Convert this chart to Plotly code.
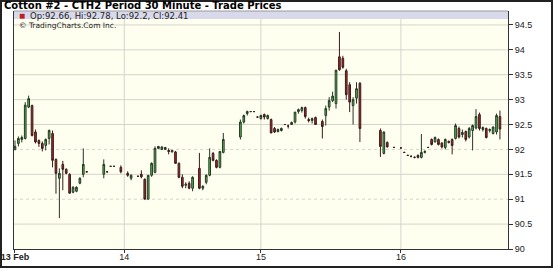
import plotly.graph_objects as go

# ---- data (bar slot index within sessions, OHLC) ----
bar_slot = [0,1,2,3,4,5,6,7,8,9,10,11,12,13,14,15,16,17,18,19,20,21,
            26,27,28,29,31,33,34,36,37,38,39,40,41,42,43,44,45,46,47,48,49,50,51,52,54,55,56,57,58,59,60,61,
            66,67,68,69,70,71,72,73,74,75,76,77,78,79,80,81,82,83,84,85,86,87,88,90,
            91,92,93,94,95,96,97,98,99,100,101,107,108,109,111,
            113,114,115,116,117,118,119,120,121,122,123,124,125,126,127,128,129,130,131,132,133,134,135,136,137,138,139,140,141,142]
open_ = [92.00,92.12,92.20,92.22,92.85,92.88,92.35,92.18,92.12,92.08,92.22,92.32,91.80,91.42,91.70,91.60,91.50,91.14,91.16,91.32,91.50,91.55,
         91.50,91.55,91.66,91.66,91.64,91.52,91.42,91.46,91.50,91.40,91.00,91.48,91.54,92.02,92.00,92.00,91.98,91.95,91.95,91.72,91.44,91.28,91.32,91.22,91.62,91.22,91.34,91.48,91.92,91.78,91.64,91.94,
         92.25,92.55,92.72,92.76,92.76,92.65,92.62,92.70,92.62,92.60,92.42,92.36,92.38,92.50,92.47,92.50,92.55,92.76,92.78,92.84,92.60,92.58,92.64,92.56,
         92.68,92.85,92.98,92.92,93.86,93.83,93.58,93.30,92.88,93.03,93.33,92.38,91.92,92.14,92.04,
         92.03,91.94,91.88,91.86,91.84,91.88,91.84,91.94,92.04,92.20,92.15,92.20,92.13,92.04,92.16,92.20,92.22,92.42,92.30,92.36,92.25,92.38,92.43,92.70,92.40,92.42,92.38,92.32,92.35,92.66]
high = [92.18,92.26,92.28,92.95,93.08,92.90,92.40,92.20,92.16,92.22,92.40,92.38,91.82,91.62,91.77,91.62,91.52,91.26,91.26,91.44,92.02,91.56,
        91.80,91.56,91.67,91.67,91.68,91.56,91.50,91.47,91.58,91.42,91.48,91.74,92.06,92.07,92.06,92.05,92.02,91.99,91.97,91.74,91.50,91.34,91.36,91.46,91.93,91.28,91.50,92.02,91.95,91.80,91.96,92.33,
        92.60,92.70,92.78,92.77,92.77,92.66,92.70,92.72,92.70,92.62,92.45,92.42,92.44,92.51,92.50,92.56,92.75,92.82,92.86,92.86,92.64,92.64,92.66,92.60,
        92.88,93.05,93.16,93.60,94.36,93.88,93.62,93.35,93.05,93.35,93.35,92.42,92.36,92.16,92.05,
        92.04,91.95,91.89,91.88,91.86,91.90,92.31,91.98,92.05,92.22,92.26,92.22,92.14,92.22,92.18,92.22,92.52,92.46,92.40,92.38,92.45,92.50,92.81,92.74,92.46,92.44,92.42,92.46,92.72,92.78]
low = [91.98,92.06,92.14,92.20,92.83,92.26,92.12,92.05,91.96,91.98,92.10,91.64,91.11,90.62,91.18,91.50,91.12,91.12,91.14,91.30,91.44,91.54,
       91.42,91.54,91.65,91.65,91.52,91.45,91.38,91.45,91.42,91.00,91.00,91.45,91.52,92.01,91.99,91.99,91.90,91.94,91.72,91.42,91.22,91.22,91.20,91.16,91.20,91.18,91.30,91.46,91.76,91.62,91.62,91.92,
       92.20,92.52,92.68,92.75,92.75,92.64,92.60,92.60,92.60,92.33,92.33,92.34,92.36,92.49,92.42,92.50,92.52,92.72,92.74,92.62,92.54,92.52,92.50,92.22,
       92.48,92.78,92.95,92.82,93.58,93.62,93.00,92.75,92.50,92.92,92.15,91.85,91.90,92.04,92.03,
       92.02,91.93,91.87,91.84,91.82,91.82,91.82,91.92,92.03,92.08,92.14,92.08,92.02,92.00,92.12,91.90,92.20,92.22,92.24,92.16,92.22,91.98,92.40,92.38,92.36,92.22,92.34,92.30,92.30,92.20]
close = [92.06,92.22,92.24,92.89,93.02,92.28,92.15,92.12,92.02,92.20,92.38,91.78,91.52,91.52,91.60,91.52,91.12,91.24,91.24,91.42,91.70,91.55,
         91.70,91.55,91.66,91.66,91.55,91.48,91.48,91.46,91.45,91.00,91.48,91.72,92.02,92.06,92.05,92.04,91.96,91.98,91.72,91.44,91.26,91.30,91.22,91.44,91.22,91.26,91.48,91.84,91.78,91.64,91.96,92.20,
         92.55,92.68,92.76,92.76,92.76,92.65,92.68,92.65,92.68,92.33,92.35,92.40,92.42,92.50,92.47,92.54,92.75,92.80,92.84,92.66,92.58,92.62,92.50,92.46,
         92.82,92.98,93.07,93.59,93.60,93.65,93.10,92.95,93.00,93.22,92.42,92.06,92.35,92.05,92.04,
         92.03,91.94,91.88,91.86,91.84,91.84,91.94,91.96,92.04,92.10,92.24,92.10,92.05,92.20,92.14,92.08,92.48,92.25,92.34,92.20,92.42,92.48,92.66,92.42,92.44,92.24,92.40,92.45,92.68,92.41]

day_slots = [0, 32, 72, 113]
day_labels = ["<b>13 Feb</b>", "14", "15", "16"]
price_ticks = [90, 90.5, 91, 91.5, 92, 92.5, 93, 93.5, 94, 94.5]
price_labels = ["90", "90.5", "91", "91.5", "92", "92.5", "93", "93.5", "94", "94.5"]
dotted_levels = [91, 92]

title_text = "Cotton #2 - CTH2 Period 30 Minute - Trade Prices"
legend_text = "Op:92.66, Hi:92.78, Lo:92.2, Cl:92.41"
credit_text = "\u00a9 TradingCharts.Com Inc."

FONT = "Liberation Sans, Arial, sans-serif"
WFONT = "DejaVu Sans, Verdana, sans-serif"
PW, PH = 494, 238  # plot area size in px

fig = go.Figure()
fig.add_trace(go.Candlestick(
    x=bar_slot, open=open_, high=high, low=low, close=close,
    increasing=dict(line=dict(color="#263626", width=1), fillcolor="#4cc84c"),
    decreasing=dict(line=dict(color="#3a1c1c", width=1), fillcolor="#b02828"),
    whiskerwidth=0, showlegend=False, hoverinfo="skip",
))

shapes = []
# horizontal grid
for lv in price_ticks[1:]:
    shapes.append(dict(type="line", xref="paper", yref="y", x0=0, x1=1, y0=lv, y1=lv,
                       line=dict(color="#d4d4cc", width=1, dash="dot" if lv in dotted_levels else "solid"),
                       layer="below"))
# vertical grid
for d in day_slots[1:]:
    shapes.append(dict(type="line", xref="x", yref="paper", x0=d, x1=d, y0=0, y1=1,
                       line=dict(color="#d4d4cc", width=1), layer="below"))
# legend band
shapes.append(dict(type="rect", xref="paper", yref="paper", x0=0, x1=1, y0=1 - 8/PH, y1=1,
                   fillcolor="#d9d9ec", line=dict(width=0), layer="below"))
# top border of plot (light)
shapes.append(dict(type="line", xref="paper", yref="paper", x0=0, x1=1, y0=1, y1=1,
                   line=dict(color="#9a9a9a", width=1)))
# outer frame
shapes.append(dict(type="rect", xref="paper", yref="paper",
                   x0=-14/PW + 1/PW, x1=(553-14)/PW - 1/PW,
                   y0=-19/PH + 1/PH, y1=1 + 11/PH - 1/PH,
                   line=dict(color="#222222", width=2), fillcolor="rgba(0,0,0,0)"))

annotations = [
    dict(text="<b>" + title_text + "</b>", xref="paper", yref="paper", x=-11/PW, y=1 + 11/PH,
         xanchor="left", yanchor="top", yshift=1, showarrow=False, borderpad=0,
         font=dict(family=WFONT, size=10, color="#000000")),
    dict(text="\u25a0", xref="paper", yref="paper", x=4/PW, y=1 - 4.5/PH, xanchor="left", yanchor="middle",
         showarrow=False, borderpad=0, font=dict(family=FONT, size=10, color="#c02020")),
    dict(text=legend_text, xref="paper", yref="paper", x=15/PW, y=1 - 5/PH, xanchor="left", yanchor="middle",
         showarrow=False, borderpad=0, font=dict(family=WFONT, size=8.5, color="#222222")),
    dict(text=credit_text, xref="paper", yref="paper", x=4/PW, y=1 - 14/PH, xanchor="left", yanchor="middle",
         showarrow=False, borderpad=0, font=dict(family=WFONT, size=7.5, color="#222222")),
]

fig.update_layout(
    width=553, height=268, autosize=False,
    margin=dict(l=14, r=45, t=11, b=19, pad=0),
    paper_bgcolor="#ffffff", plot_bgcolor="#fffff0",
    shapes=shapes, annotations=annotations,
    xaxis=dict(range=[-0.29, 144.36], tickvals=day_slots, ticktext=day_labels, automargin=False,
               showgrid=False, zeroline=False, rangeslider=dict(visible=False),
               showline=True, linecolor="#333333", linewidth=1, mirror=False,
               ticks="outside", ticklen=3, tickcolor="#333333", ticklabelstandoff=-4,
               tickfont=dict(family=FONT, size=9, color="#222222"), fixedrange=True),
    yaxis=dict(range=[90, 94.78], side="right", tickvals=price_ticks, ticktext=price_labels, automargin=False,
               showgrid=False, zeroline=False,
               showline=True, linecolor="#333333", linewidth=1, mirror=True,
               ticks="outside", ticklen=4, tickcolor="#333333",
               tickfont=dict(family=FONT, size=9, color="#222222"), fixedrange=True),
)

fig.write_html("out.html")
